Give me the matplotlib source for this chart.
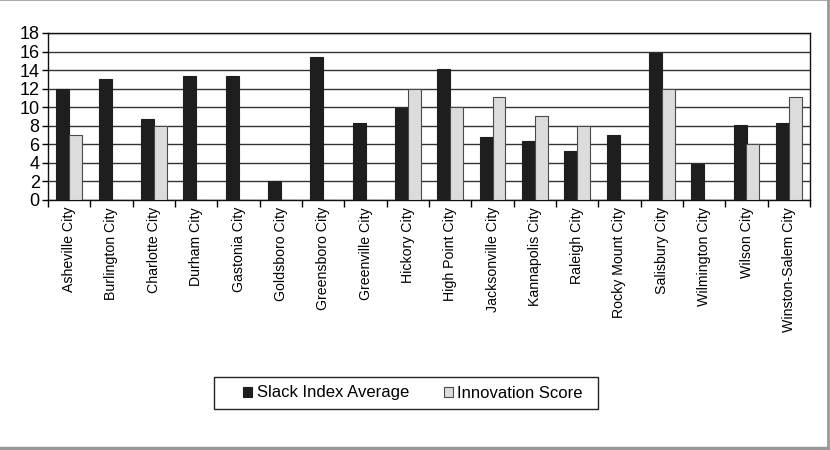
import matplotlib
matplotlib.use("Agg")
import matplotlib.pyplot as plt
from matplotlib.lines import Line2D
from matplotlib.patches import Rectangle
import numpy as np

plt.rcParams['font.family'] = ['Liberation Sans', 'DejaVu Sans']

cities = ["Asheville City", "Burlington City", "Charlotte City", "Durham City",
          "Gastonia City", "Goldsboro City", "Greensboro City", "Greenville City",
          "Hickory City", "High Point City", "Jacksonville City", "Kannapolis City",
          "Raleigh City", "Rocky Mount City", "Salisbury City", "Wilmington City",
          "Wilson City", "Winston-Salem City"]
slack_index = [12.0, 13.0, 8.7, 13.4, 13.4, 2.1, 15.4, 8.3, 9.9, 14.1,
               6.8, 6.4, 5.3, 7.0, 15.8, 3.9, 8.1, 8.3]
innovation = [7, 0, 8, 0, 0, 0, 0, 0, 12, 10, 11.1, 9, 8, 0, 12, 0, 6, 11.1]
y_ticks = [0, 2, 4, 6, 8, 10, 12, 14, 16, 18]

W, H = 830, 450
fig = plt.figure(figsize=(W / 100, H / 100), dpi=100)
ax = fig.add_axes([48 / W, 1 - 200 / H, (810 - 48) / W, (200 - 33) / H])

x = np.arange(len(cities))
w = 0.3
ax.bar(x - w / 2, slack_index, width=w, color="#1e1e1e", edgecolor="#1e1e1e",
       linewidth=0.8, label="Slack Index Average", zorder=3)
ax.bar(x + w / 2, innovation, width=w, color="#dcdcdc", edgecolor="#4a4a4a",
       linewidth=0.8, label="Innovation Score", zorder=3)

ax.set_xlim(-0.5, len(cities) - 0.5)
ax.set_ylim(0, 18)
ax.set_yticks(y_ticks)
ax.set_yticklabels([str(v) for v in y_ticks], fontsize=13)
ax.yaxis.grid(True, color="#333333", linewidth=1.0, zorder=0)

# category labels centred, tick marks on category boundaries
ax.set_xticks(x)
ax.set_xticklabels(cities, rotation=90, fontsize=10.2)
ax.tick_params(axis='x', which='major', length=0, pad=5)
ax.set_xticks(np.arange(-0.5, len(cities)), minor=True)
ax.tick_params(axis='x', which='minor', length=5, width=1, direction='out')
ax.tick_params(axis='y', length=4, width=1, direction='out', pad=2)

for s in ax.spines.values():
    s.set_color("#111111")
    s.set_linewidth(1.0)

# legend entries without their own frame, boxed separately
leg = fig.legend(loc='center', bbox_to_anchor=(413 / W, 1 - 393 / H),
                 ncol=2, frameon=False, fontsize=12,
                 handlelength=0.55, handleheight=0.55, handletextpad=0.25,
                 columnspacing=2.1, borderpad=0, borderaxespad=0)
fig.add_artist(Rectangle((214 / W, 1 - 409 / H), (598 - 214) / W, 32 / H,
                         transform=fig.transFigure, fill=False,
                         edgecolor="#222222", linewidth=1.0))

# outer frame of the chart area
fig.add_artist(Line2D([0, 1], [0.999, 0.999], transform=fig.transFigure,
                      color="#999999", linewidth=1.2))
fig.add_artist(Line2D([828 / W, 828 / W], [0, 1], transform=fig.transFigure,
                      color="#999999", linewidth=2.0))
fig.add_artist(Line2D([0, 828 / W], [2 / H, 2 / H], transform=fig.transFigure,
                      color="#999999", linewidth=2.5))

fig.savefig("out.png", dpi=100)
